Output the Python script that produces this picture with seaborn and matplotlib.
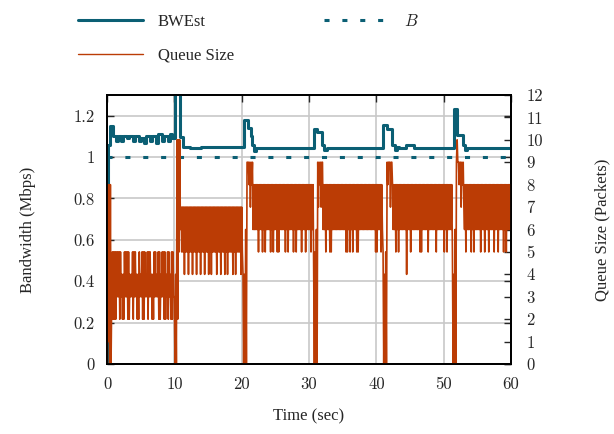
import numpy as np
import pandas as pd
import matplotlib
matplotlib.use("Agg")
import matplotlib.pyplot as plt
from matplotlib.lines import Line2D
import seaborn as sns

# ---------------- data ----------------
# BWEst estimate: step breakpoints (time in s, Mbps)
bw_time = [0.0, 0.1, 0.4, 0.9, 1.3, 1.6, 2.1, 2.4, 2.9, 3.2, 3.8, 4.1, 4.7, 5.0,
           5.5, 5.8, 6.4, 6.7, 7.3, 7.6, 8.2, 8.5, 9.0, 9.3, 9.7, 10.1, 10.8,
           11.3, 12.3, 14.0, 20.4, 21.0, 21.4, 21.6, 21.8, 22.2, 30.7, 31.2,
           31.9, 32.2, 32.6, 41.0, 41.6, 42.4, 42.7, 43.0, 43.4, 44.4, 45.6,
           51.5, 52.0, 52.9, 53.1, 53.4, 60.0]
bw_value = [0.0, 1.06, 1.15, 1.10, 1.08, 1.10, 1.08, 1.10, 1.09, 1.10, 1.08, 1.10,
            1.08, 1.09, 1.07, 1.10, 1.08, 1.10, 1.07, 1.11, 1.08, 1.10, 1.08, 1.11,
            1.09, 1.45, 1.095, 1.05, 1.045, 1.05, 1.18, 1.14, 1.10, 1.06, 1.03,
            1.045, 1.135, 1.12, 1.06, 1.035, 1.045, 1.155, 1.135, 1.06, 1.035,
            1.05, 1.045, 1.06, 1.045, 1.23, 1.105, 1.06, 1.035, 1.045, 1.045]

# target bandwidth B (Mbps)
b_target = 1.0

# queue size (packets), sampled every 0.1 s; one hex digit per sample
queue_step = 0.1
queue_0_10 = ("0818080352" "5252535352" "5342425353" "5252434352" "5353424253"
              "4352525343" "5253534242" "5353435252" "4353525243" "5253425253")
queue_10_20 = ("3040a2a5a6" "7575747575" "7475757475" "7574757574" "7575747575"
               "7475747575" "7574757574" "7575747574" "7575757475" "7475757574")
queue_20_30 = ("7540406099" "9897989686" "8686858686" "8586858686" "8685868586"
               "8685858686" "8686858685" "8686868586" "8586868685" "8686858686")
queue_30_40 = ("8685868405" "0609798979" "9686858686" "8585868686" "8686868686"
               "8686858586" "8586858686" "8585868686" "8686868686" "8686868685")
queue_40_50 = ("8586868586" "5040509899" "9799868685" "8685868686" "8686848686"
               "8586868686" "8686858586" "8686868586" "8686868685" "8686868686")
queue_50_60 = ("8586858686" "8685040609" "a998997989" "7685868686" "8586858686"
               "8686858686" "8586868586" "8686858686" "8586868685" "8685868686" "8")

x_ticks = [0, 10, 20, 30, 40, 50, 60]
bw_ticks = [0, 0.2, 0.4, 0.6, 0.8, 1, 1.2]
bw_tick_labels = ["0", "0.2", "0.4", "0.6", "0.8", "1", "1.2"]
q_ticks = list(range(13))

# ---------------- build frames ----------------
queue_str = queue_0_10 + queue_10_20 + queue_20_30 + queue_30_40 + queue_40_50 + queue_50_60
queue_vals = [int(c, 16) for c in queue_str]
queue_df = pd.DataFrame({"time": np.arange(len(queue_vals)) * queue_step,
                         "queue": queue_vals})
bw_df = pd.DataFrame({"time": bw_time, "bw": bw_value})
b_df = pd.DataFrame({"time": [0, 60], "b": [b_target, b_target]})

# ---------------- style ----------------
sns.set_style("white")
plt.rcParams["font.family"] = ["Liberation Serif", "DejaVu Serif"]
plt.rcParams["mathtext.fontset"] = "cm"
plt.rcParams["font.size"] = 12

TEAL = "#0b5f74"
ORANGE = "#bb3c05"
GRID = "#c8c8c8"

fig = plt.figure(figsize=(6.14, 4.34), dpi=100)
ax = fig.add_axes([107 / 614, 70 / 434, 404 / 614, 269 / 434])
ax2 = ax.twinx()

sns.lineplot(data=bw_df, x="time", y="bw", ax=ax, color=TEAL, lw=2.2,
             drawstyle="steps-post", estimator=None, sort=False, zorder=3)
sns.lineplot(data=b_df, x="time", y="b", ax=ax, color=TEAL, lw=2.2,
             dashes=False, estimator=None, zorder=3)
ax.lines[-1].set_dashes([1.65, 4.2])

sns.lineplot(data=queue_df, x="time", y="queue", ax=ax2, color=ORANGE, lw=1.2,
             estimator=None, sort=False)

ax.set_xlim(0, 60)
ax.set_ylim(0, 1.3)
ax2.set_ylim(0, 12)

ax.set_xticks(x_ticks)
ax.set_yticks(bw_ticks)
ax.set_yticklabels(bw_tick_labels)
ax2.set_yticks(q_ticks)

ax.grid(True, color=GRID, lw=1.2)
ax.set_axisbelow(True)

for a in (ax, ax2):
    for s in a.spines.values():
        s.set_color("black")
        s.set_linewidth(1.3)

ax.tick_params(axis="x", direction="in", length=5, width=1, top=True, pad=9,
               labelsize=12)
ax.tick_params(axis="y", direction="in", length=5, width=1, right=True, pad=9,
               labelsize=12)
ax2.tick_params(axis="y", direction="in", length=5, width=1, pad=11, labelsize=12)
for lab in ax.get_xticklabels() + ax.get_yticklabels() + ax2.get_yticklabels():
    lab.set_fontfamily(["cmr10", "DejaVu Serif"])

ax.set_xlabel("Time (sec)", fontsize=12, labelpad=12)
ax.set_ylabel("Bandwidth (Mbps)", fontsize=12, labelpad=27)
ax2.set_ylabel("Queue Size (Packets)", fontsize=12, labelpad=37)

handles = [Line2D([], [], color=TEAL, lw=2.2),
           Line2D([], [], color=ORANGE, lw=1.0),
           Line2D([], [], color=TEAL, lw=2.2, dashes=[1.65, 4.2])]
labels = ["BWEst", "Queue Size", "$B$"]
fig.legend(handles, labels, ncol=2, loc="upper left",
           bbox_to_anchor=(78 / 614, 1 - 14 / 434), frameon=False,
           handlelength=3.9, handletextpad=0.9, columnspacing=5.4,
           labelspacing=1.05, borderpad=0, borderaxespad=0, fontsize=12)

fig.savefig("out.png", dpi=100)
